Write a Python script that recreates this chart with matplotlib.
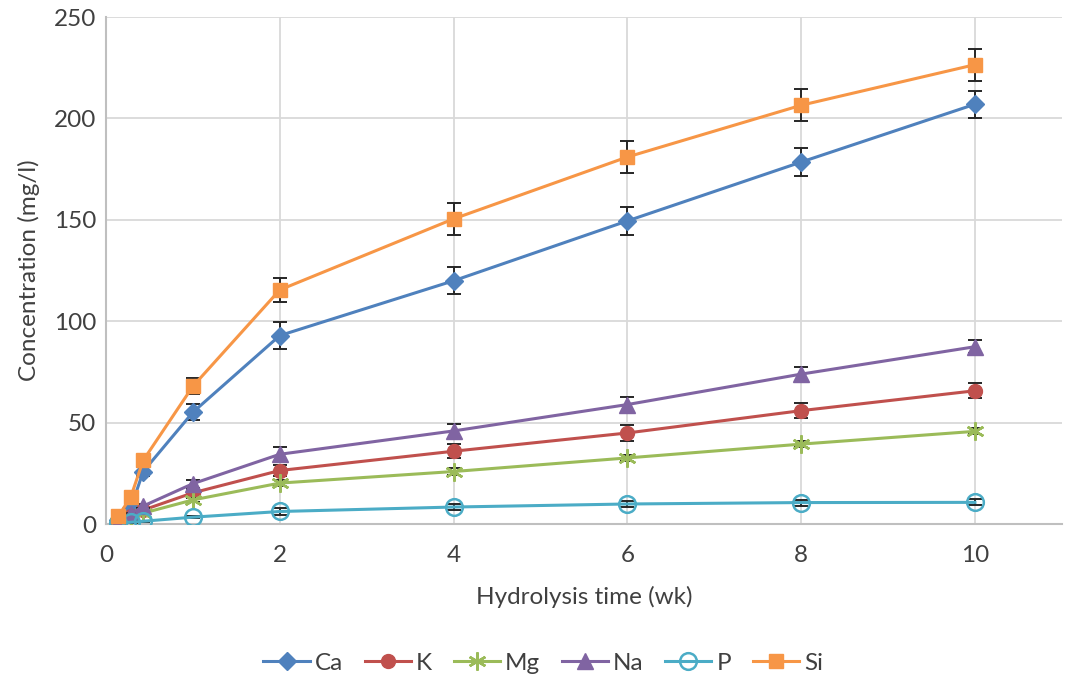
import matplotlib
matplotlib.use("Agg")
import matplotlib.pyplot as plt

plt.rcParams['font.family'] = ['Lato', 'DejaVu Sans']

# Hydrolysis time in weeks (1, 2, 3 days then weekly points)
weeks = [1/7, 2/7, 3/7, 1, 2, 4, 6, 8, 10]

ca = [2, 8, 26, 55.2, 93, 120, 149.5, 178.5, 207]
ca_err = [0.5, 1, 2, 4, 6.5, 6.6, 6.8, 6.8, 6.6]
k = [1, 4, 7, 15.5, 26.5, 36, 45, 56, 65.8]
k_err = [0.3, 0.5, 1, 2, 2.5, 3.5, 3.8, 3.6, 3.8]
mg = [1, 3, 5.5, 12, 20.3, 26, 32.7, 39.5, 45.8]
mg_err = [0.2, 0.3, 0.5, 1, 1.5, 1.5, 1.5, 1.5, 1.5]
na = [1.2, 5, 9, 20, 34.5, 46, 59, 74, 87.5]
na_err = [0.3, 0.5, 1, 2, 3.5, 3.3, 3.5, 3.3, 3.3]
p = [0.5, 1, 1.5, 3.5, 6.3, 8.5, 10, 10.7, 10.8]
p_err = [0.1, 0.2, 0.3, 0.5, 1.5, 1.5, 1.5, 1.5, 1.5]
si = [4, 13.5, 31.5, 68, 115.5, 150.5, 181, 206.5, 226.5]
si_err = [0.5, 1, 2, 4, 6, 7.7, 7.8, 7.8, 7.8]

x_ticks = [0, 2, 4, 6, 8, 10]
y_ticks = [0, 50, 100, 150, 200, 250]

series = [
    ("Ca", ca, ca_err, "#4f81bd", "D", 9, dict()),
    ("K", k, k_err, "#c0504d", "o", 10, dict()),
    ("Mg", mg, mg_err, "#9bbb59", (6, 2, 0), 13, dict(markeredgewidth=1.8)),
    ("Na", na, na_err, "#8064a2", "^", 11, dict()),
    ("P", p, p_err, "#4bacc6", "o", 12, dict(markerfacecolor="none", markeredgewidth=1.8)),
    ("Si", si, si_err, "#f79646", "s", 10, dict()),
]

fig = plt.figure(figsize=(10.65, 6.80), dpi=100)
ax = fig.add_axes([0.0995, 0.229, 0.8975, 0.746])

for i, (name, vals, errs, color, marker, ms, extra) in enumerate(series):
    ax.errorbar(weeks, vals, yerr=errs, fmt="none", ecolor="#262626",
                elinewidth=1.4, capsize=5, capthick=1.4, zorder=3 + 2 * i)
    kw = dict(markerfacecolor=color, markeredgecolor=color)
    kw.update(extra)
    ax.plot(weeks, vals, color=color, lw=2.2, marker=marker, markersize=ms,
            label=name, zorder=4 + 2 * i, **kw)

ax.set_xlim(0, 11)
ax.set_ylim(0, 250)
ax.set_xticks(x_ticks)
ax.set_yticks(y_ticks)
ax.grid(True, color="#d9d9d9", lw=1.3, zorder=0)
ax.set_axisbelow(True)
for side in ("top", "right"):
    ax.spines[side].set_visible(False)
for side in ("left", "bottom"):
    ax.spines[side].set_color("#bfbfbf")
    ax.spines[side].set_linewidth(1.5)
ax.tick_params(axis="both", length=0, labelsize=17.5, colors="#404040")
ax.tick_params(axis="x", pad=15)
ax.tick_params(axis="y", pad=7)

ax.set_xlabel("Hydrolysis time (wk)", fontsize=17.5, color="#404040", labelpad=14)
ax.set_ylabel("Concentration (mg/l)", fontsize=17.5, color="#404040", labelpad=10)

fig.legend(loc="center", bbox_to_anchor=(0.51, 0.025), ncol=6, frameon=False,
           fontsize=17.5, handlelength=1.9, columnspacing=0.9, handletextpad=0.2,
           labelcolor="#404040")

fig.savefig("out.png", dpi=100)
